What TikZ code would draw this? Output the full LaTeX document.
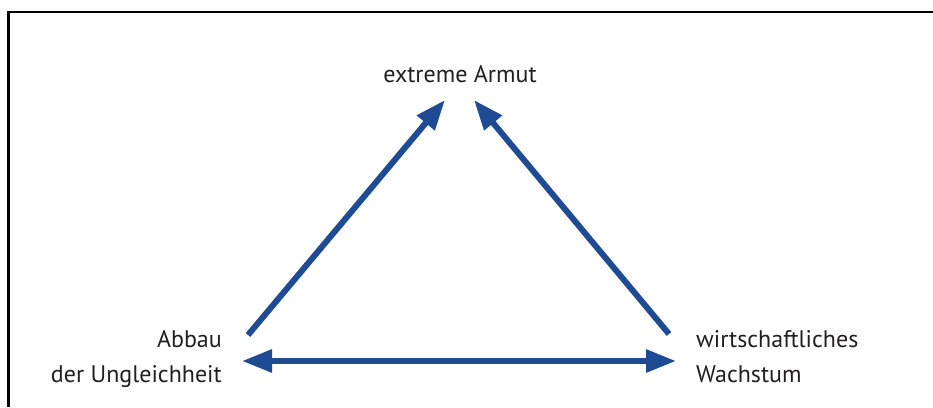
\documentclass[tikz,border=0pt]{standalone}
\usepackage{fontspec}
\setmainfont{PT Sans}
\usetikzlibrary{arrows.meta}
\definecolor{arrowblue}{HTML}{1F4A94}
\definecolor{txt}{HTML}{231F20}
\tikzset{
  lbl/.style={font=\fontsize{24}{35}\selectfont, text=txt, inner sep=0pt},
  conn/.style={draw=arrowblue, line width=6pt, -{Triangle[length=30pt,width=22pt]}},
  frame/.style={draw=black, line width=2.2pt}
}
\begin{document}
\begin{tikzpicture}[x=1pt,y=-1pt]
\useasboundingbox (0,0) rectangle (933,407);
\draw[frame] (933,12) -- (8.5,12) -- (8.5,407);
\node[lbl, anchor=base] (top) at (460,82) {extreme Armut};
\node[lbl, anchor=base east] (l1) at (222,347) {Abbau};
\node[lbl, anchor=base east] (l2) at (222,382) {der Ungleichheit};
\node[lbl, anchor=base west] (r1) at (696,347) {wirtschaftliches};
\node[lbl, anchor=base west] (r2) at (696,382) {Wachstum};
\coordinate (ls) at (248,335);
\coordinate (lt) at (445,100);
\coordinate (rs) at (669,334);
\coordinate (rt) at (474,100);
\coordinate (hl) at (242,361);
\coordinate (hr) at (676,361);
\draw[conn] (ls) -- (lt);
\draw[conn] (rs) -- (rt);
\draw[conn, {Triangle[length=30pt,width=22pt]}-{Triangle[length=30pt,width=22pt]}] (hl) -- (hr);
\end{tikzpicture}
\end{document}
